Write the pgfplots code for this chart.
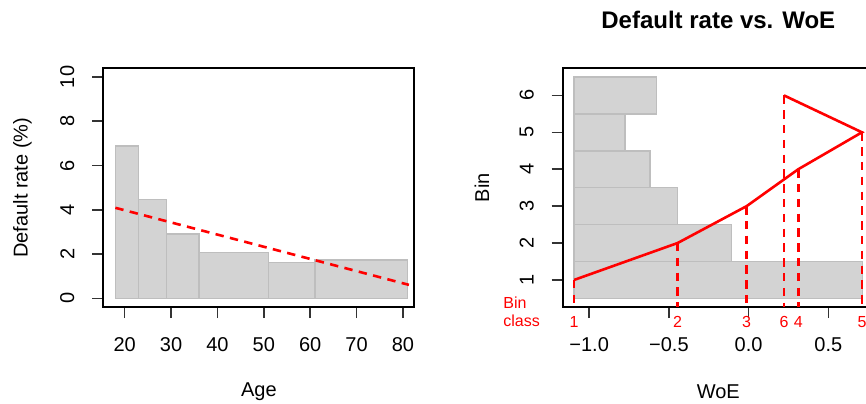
\documentclass[border=0pt]{standalone}
\usepackage{fontspec}
\setmainfont{Liberation Sans}
\usepackage{pgfplots}
\pgfplotsset{compat=1.18}
\definecolor{barfill}{HTML}{D3D3D3}
\definecolor{barline}{HTML}{BEBEBE}
\pgfplotsset{
  rstyle/.style={
    scale only axis, width=155.6pt, height=119.55pt,
    axis line style={line width=1pt},
    tick align=outside, major tick length=5.5pt,
    xtick pos=left, ytick pos=left,
    major tick style={line width=0.75pt, black!80},
    /pgf/number format/assume math mode=true,
    tick label style={font=\fontsize{10}{12}\selectfont},
    xticklabel style={anchor=center}, xticklabel shift=13pt,
    yticklabel style={anchor=center, rotate=90}, yticklabel shift=12.5pt,
    label style={font=\fontsize{10}{12}\selectfont},
    clip=false,
  },
  bar/.style={fill=barfill, draw=barline, line width=0.75pt},
  rdash/.style={red, line width=1.3pt, dash pattern=on 4.2pt off 3.2pt},
}
\begin{document}
\begin{tikzpicture}
\useasboundingbox (0pt,0pt) rectangle (433pt,201.5pt);
\clip (0pt,0pt) rectangle (433pt,201.5pt);
% ---------------- left panel ----------------
\begin{axis}[rstyle, at={(51.65pt,47.9pt)}, anchor=south west,
  xmin=15.4, xmax=82.5, ymin=-0.4, ymax=10.4,
  xtick={20,30,40,50,60,70,80}, ytick={0,2,4,6,8,10},
  xlabel={Age}, ylabel={Default rate (\%)},
  xlabel style={at={(axis description cs:0.5,-0.3547)}, anchor=center},
  ylabel style={at={(axis description cs:-0.2596,0.5)}, anchor=center},
]
\addplot[bar] coordinates {(18,0) (23,0) (23,6.89) (18,6.89) (18,0)};
\addplot[bar] coordinates {(23,0) (29,0) (29,4.47) (23,4.47) (23,0)};
\addplot[bar] coordinates {(29,0) (36,0) (36,2.90) (29,2.90) (29,0)};
\addplot[bar] coordinates {(36,0) (51,0) (51,2.06) (36,2.06) (36,0)};
\addplot[bar] coordinates {(51,0) (61,0) (61,1.62) (51,1.62) (51,0)};
\addplot[bar] coordinates {(61,0) (81,0) (81,1.73) (61,1.73) (61,0)};
\addplot[rdash] coordinates {(18,4.09) (81.3,0.61)};
\end{axis}
% ---------------- right panel ----------------
\begin{axis}[rstyle, at={(281.35pt,47.9pt)}, anchor=south west,
  xmin=-1.166, xmax=0.786, ymin=0.26, ymax=6.74,
  xtick={-1,-0.5,0,0.5}, xticklabels={−1.0,−0.5,0.0,0.5},
  ytick={1,2,3,4,5,6},
  xlabel={WoE}, ylabel={Bin},
  xlabel style={at={(axis description cs:0.5,-0.3547)}, anchor=center},
  ylabel style={at={(axis description cs:-0.2596,0.5)}, anchor=center},
  title={Default rate vs. WoE},
  title style={at={(axis description cs:0.5,1.1506)}, anchor=center, font=\fontsize{12}{14}\selectfont\bfseries},
]
\addplot[bar] coordinates {(-1.094,0.5) (0.713,0.5) (0.713,1.5) (-1.094,1.5) (-1.094,0.5)};
\addplot[bar] coordinates {(-1.094,1.5) (-0.107,1.5) (-0.107,2.5) (-1.094,2.5) (-1.094,1.5)};
\addplot[bar] coordinates {(-1.094,2.5) (-0.445,2.5) (-0.445,3.5) (-1.094,3.5) (-1.094,2.5)};
\addplot[bar] coordinates {(-1.094,3.5) (-0.617,3.5) (-0.617,4.5) (-1.094,4.5) (-1.094,3.5)};
\addplot[bar] coordinates {(-1.094,4.5) (-0.776,4.5) (-0.776,5.5) (-1.094,5.5) (-1.094,4.5)};
\addplot[bar] coordinates {(-1.094,5.5) (-0.577,5.5) (-0.577,6.5) (-1.094,6.5) (-1.094,5.5)};
\addplot[rdash] coordinates {(-1.094,1) (-1.094,0.26)};
\addplot[rdash] coordinates {(-0.445,2) (-0.445,0.26)};
\addplot[rdash] coordinates {(-0.012,3) (-0.012,0.26)};
\addplot[rdash] coordinates {(0.312,4) (0.312,0.26)};
\addplot[rdash] coordinates {(0.711,5) (0.711,0.26)};
\addplot[rdash] coordinates {(0.222,6) (0.222,0.26)};
\addplot[red, line width=1.3pt] coordinates {(-1.094,1) (-0.445,2) (-0.012,3) (0.312,4) (0.711,5) (0.222,6)};
\node[red, yshift=-7.25pt, font=\fontsize{8}{9.6}\selectfont] at (axis cs:-1.094,0.26) {1};
\node[red, yshift=-7.25pt, font=\fontsize{8}{9.6}\selectfont] at (axis cs:-0.445,0.26) {2};
\node[red, yshift=-7.25pt, font=\fontsize{8}{9.6}\selectfont] at (axis cs:-0.012,0.26) {3};
\node[red, yshift=-7.25pt, font=\fontsize{8}{9.6}\selectfont] at (axis cs:0.312,0.26) {4};
\node[red, yshift=-7.25pt, font=\fontsize{8}{9.6}\selectfont] at (axis cs:0.711,0.26) {5};
\node[red, yshift=-7.25pt, font=\fontsize{8}{9.6}\selectfont] at (axis cs:0.222,0.26) {6};
\node[red, anchor=west, inner sep=0pt, align=left, font=\fontsize{8}{9.2}\selectfont] at (rel axis cs:-0.1918,-0.0188) {Bin\\class};
\end{axis}
\end{tikzpicture}
\end{document}
